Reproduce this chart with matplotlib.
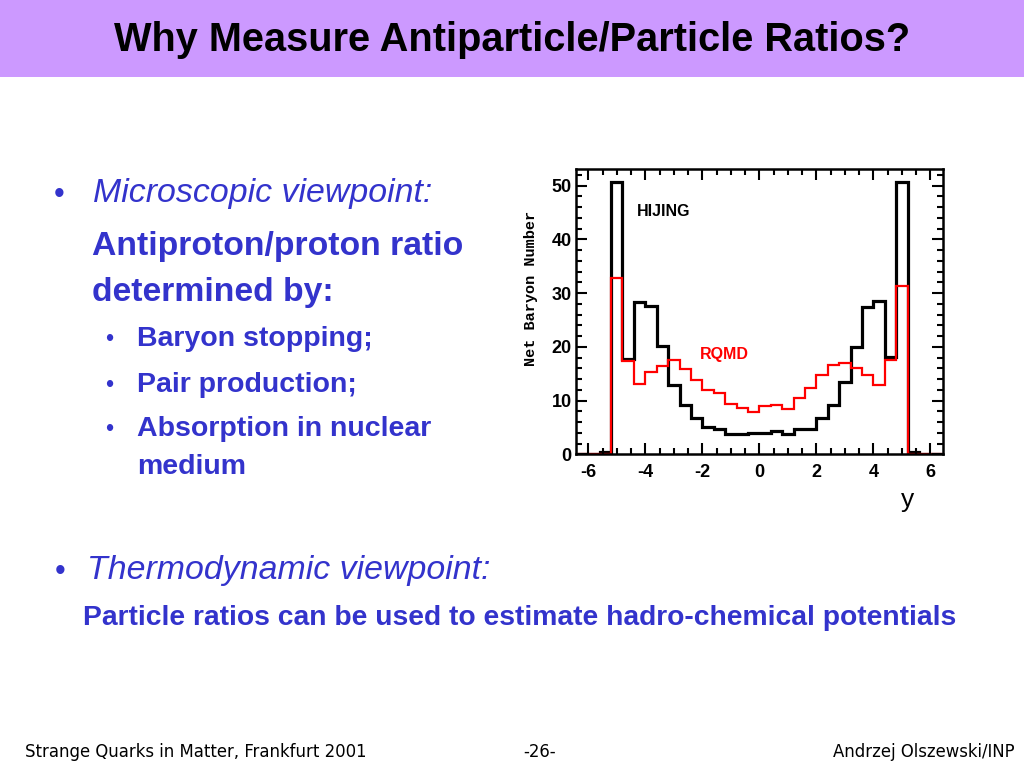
import numpy as np
import matplotlib
matplotlib.use("Agg")
import matplotlib.pyplot as plt
from matplotlib.patches import Rectangle
from matplotlib.ticker import MultipleLocator

plt.rcParams['font.family'] = ['Liberation Sans', 'DejaVu Sans']
plt.rcParams['axes.unicode_minus'] = False

# rapidity bins, width 0.4 from -6.4 to 6.4
bin_edges = np.round(np.arange(-6.4, 6.41, 0.4), 2)

hijing = [0, 0, 0.5, 50.6, 17.8, 28.4, 27.6, 20.2, 12.9, 9.2, 6.7, 5.0, 4.7, 3.7, 3.7, 4.0,
          4.0, 4.3, 3.7, 4.8, 4.8, 6.7, 9.2, 13.5, 19.9, 27.5, 28.6, 18.2, 50.7, 0.5, 0, 0]
rqmd = [0, 0, 0, 32.8, 17.3, 13.0, 15.4, 16.5, 17.6, 15.9, 13.9, 12.0, 11.4, 9.3, 8.6, 7.8,
        9.0, 9.2, 8.4, 10.5, 12.4, 14.8, 16.6, 17.0, 16.0, 14.8, 12.9, 17.6, 31.4, 0, 0, 0]

x_ticks = [-6, -4, -2, 0, 2, 4, 6]
y_ticks = [0, 10, 20, 30, 40, 50]

title = "Why Measure Antiparticle/Particle Ratios?"
sub_items = ["Baryon stopping;", "Pair production;", "Absorption in nuclear", "medium"]
footer_left = "Strange Quarks in Matter, Frankfurt 2001"
footer_mid = "-26-"
footer_right = "Andrzej Olszewski/INP"

blue = '#3333CC'
W, H = 1024, 768


def px(x, y):
    return x / W, 1 - y / H


fig = plt.figure(figsize=(10.24, 7.68), dpi=100)
fig.patch.set_facecolor('white')

# title band
fig.patches.append(Rectangle((0, 1 - 76.5 / H), 1, 76.5 / H, transform=fig.transFigure,
                             facecolor='#CC99FF', edgecolor='none', zorder=0))
fig.text(*px(512, 40), title, ha='center', va='center', fontsize=28.6,
         fontweight='bold', color='black')

# left text block
fig.text(*px(59, 195), "\u2022", ha='center', va='center', fontsize=22, color=blue)
fig.text(*px(93, 202), "Microscopic viewpoint:", ha='left', va='baseline',
         fontsize=24.4, style='italic', color=blue)
fig.text(*px(92, 255), "Antiproton/proton ratio", ha='left', va='baseline',
         fontsize=24.3, fontweight='bold', color=blue)
fig.text(*px(92, 301), "determined by:", ha='left', va='baseline',
         fontsize=24.3, fontweight='bold', color=blue)

sub_y = [346, 392, 436, 474]
for i, (txt, yy) in enumerate(zip(sub_items, sub_y)):
    if i < 3:
        fig.text(*px(109, yy - 6), "\u2022", ha='center', va='center', fontsize=17, color=blue)
    fig.text(*px(137, yy), txt, ha='left', va='baseline', fontsize=20.5,
             fontweight='bold', color=blue)

fig.text(*px(60, 572), "\u2022", ha='center', va='center', fontsize=22, color=blue)
fig.text(*px(87, 579), "Thermodynamic viewpoint:", ha='left', va='baseline',
         fontsize=24.4, style='italic', color=blue)
fig.text(*px(83, 625), "Particle ratios can be used to estimate hadro-chemical potentials",
         ha='left', va='baseline', fontsize=20.3, fontweight='bold', color=blue)

# footer
fig.text(*px(25, 757), footer_left, ha='left', va='baseline', fontsize=11.9,
         family='DejaVu Sans', color='black')
fig.text(*px(540, 757), footer_mid, ha='center', va='baseline', fontsize=11.9,
         family='DejaVu Sans', color='black')
fig.text(*px(1015, 757), footer_right, ha='right', va='baseline', fontsize=11.9,
         family='DejaVu Sans', color='black')

# histogram panel
left, right, top, bottom = 576, 942.7, 169, 454.3
ax = fig.add_axes([left / W, 1 - bottom / H, (right - left) / W, (bottom - top) / H])
ax.stairs(hijing, bin_edges, color='black', linewidth=2.3, baseline=0)
ax.stairs(rqmd, bin_edges, color='red', linewidth=1.6, baseline=0)

ax.set_xlim(-6.43, 6.43)
ax.set_ylim(0, 53.1)
ax.set_xticks(x_ticks)
ax.set_yticks(y_ticks)
ax.xaxis.set_minor_locator(MultipleLocator(0.5))
ax.yaxis.set_minor_locator(MultipleLocator(2))
ax.tick_params(which='both', direction='in', top=True, right=True, width=1.5,
               labelsize=13)
ax.tick_params(which='major', length=8)
ax.tick_params(which='minor', length=4.5)
ax.tick_params(axis='x', pad=7)
ax.tick_params(axis='y', pad=3)
for lab in ax.get_xticklabels() + ax.get_yticklabels():
    lab.set_fontweight('bold')
for sp in ax.spines.values():
    sp.set_linewidth(1.8)

ax.set_ylabel("Net Baryon Number", family='Liberation Mono', fontweight='bold',
              fontsize=11)
ax.yaxis.set_label_coords(-0.104, 0.583)
ax.text(-4.3, 45.1, "HIJING", fontsize=11.5, fontweight='bold', color='black',
        ha='left', va='center')
ax.text(-2.1, 18.5, "RQMD", fontsize=11.5, fontweight='bold', color='red',
        ha='left', va='center')

fig.text(*px(908, 500), "y", ha='center', va='center', fontsize=19, color='black')

fig.savefig("out.png", dpi=100)
